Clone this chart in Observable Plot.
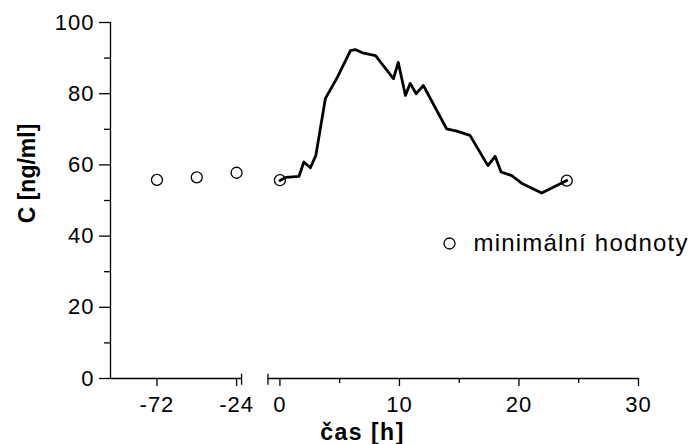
<!DOCTYPE html>
<html><head><meta charset="utf-8">
<script src="https://cdn.jsdelivr.net/npm/d3@7"></script>
<script src="https://cdn.jsdelivr.net/npm/@observablehq/plot@0.6"></script>
<style>
body{margin:0;background:#fff}
g[aria-label="y-axis tick label"] text, g[aria-label="x-axis tick label"] text {letter-spacing: 1px}
</style>
</head><body><div id="chart"></div>
<script>
// minimum (trough) values
const minTime = [-72, -48, -24, 0, 24];
const minConc = [55.8, 56.5, 57.8, 55.7, 55.6];
// concentration profile over 24 h
const time = [0, 0.5, 1.6, 2.0, 2.55, 3.0, 3.8, 4.8, 5.9, 6.3, 6.9, 8.0, 9.5, 9.9, 10.5, 10.9, 11.4, 12.0, 13.95, 14.8, 15.9, 17.4, 18.0, 18.5, 19.4, 20.3, 21.9, 24];
const conc = [55.6, 56.5, 56.8, 60.8, 59.2, 62.6, 78.6, 84.6, 92.1, 92.4, 91.5, 90.7, 84.2, 88.8, 79.5, 82.9, 80.0, 82.3, 70.1, 69.5, 68.3, 59.8, 62.4, 58.0, 57.0, 54.7, 52.1, 55.6];
// axes
const xTicks = [-72, -24, 0, 10, 20, 30];
const xMinorTicks = [5, 15, 25];
const yTicks = [0, 20, 40, 60, 80, 100];
const yMinorTicks = [10, 30, 50, 70, 90];
const xSegStart = [-100, -1];
const xSegEnd = [-21, 30];
const xBreaks = [-21, -1];
const legendLabel = "minimální hodnoty";
const xLabel = "čas [h]";
const yLabel = "C [ng/ml]";

// broken time axis: the days before dosing are compressed into a short left segment
const leftFrom = -100, leftTo = -21, rightFrom = -1;
const leftScale = 0.1388;           // compression of the left (pre-dose) segment
const leftEnd = -3.21;              // where the left segment ends on the axis
const bx = t => t >= rightFrom ? t : leftEnd + (t - leftTo) * leftScale;
const tickLabel = new Map(xTicks.map(t => [bx(t), String(t)]));

const mins = minTime.map((t, i) => ({t, c: minConc[i]}));
const profile = time.map((t, i) => ({t, c: conc[i]}));
const segs = xSegStart.map((a, i) => ({a, b: xSegEnd[i]}));

const chart = Plot.plot({
  width: 691,
  height: 444,
  marginTop: 22,
  marginBottom: 66,
  marginLeft: 110,
  marginRight: 53,
  style: {fontFamily: "'Liberation Sans', Arial, sans-serif", fontSize: "22px", color: "black", background: "white", overflow: "visible"},
  x: {domain: [bx(leftFrom), 30]},
  y: {domain: [0, 100]},
  marks: [
    // axis lines
    Plot.ruleX([leftFrom], {x: bx, y1: 0, y2: 100, stroke: "black", strokeWidth: 1.3}),
    Plot.ruleY(segs, {x1: d => bx(d.a), x2: d => bx(d.b), y: () => 0, stroke: "black", strokeWidth: 1.3}),
    Plot.ruleX(xBreaks, {x: bx, y1: -1.9, y2: 1.2, stroke: "black", strokeWidth: 1.3}),
    Plot.axisY({ticks: yTicks, tickSize: 11, tickPadding: 5, label: null, fontSize: 22, stroke: "black", strokeWidth: 1.3}),
    Plot.axisY({ticks: yMinorTicks, tickSize: 6, tickFormat: () => "", label: null, stroke: "black", strokeWidth: 1.3}),
    Plot.axisX({ticks: xTicks.map(bx), tickFormat: d => tickLabel.get(d), tickSize: 8, tickPadding: 10, label: null, fontSize: 22, stroke: "black", strokeWidth: 1.3}),
    Plot.axisX({ticks: xMinorTicks.map(bx), tickSize: 5, tickFormat: () => "", label: null, stroke: "black", strokeWidth: 1.3}),
    // data
    Plot.dot(mins, {x: d => bx(d.t), y: "c", r: 5.5, stroke: "black", strokeWidth: 1.3, fill: "none"}),
    Plot.line(profile, {x: d => bx(d.t), y: "c", stroke: "black", strokeWidth: 2.8}),
    // titles
    Plot.text([xLabel], {text: d => d, frameAnchor: "bottom", textAnchor: "middle", lineAnchor: "bottom", dx: -12, dy: 61, fontSize: 23, fontWeight: "bold", fill: "black"}),
    Plot.text([yLabel], {text: d => d, frameAnchor: "left", textAnchor: "middle", lineAnchor: "middle", rotate: -90, dx: -83, dy: -27, fontSize: 23, fontWeight: "bold", fill: "black"}),
    // legend
    Plot.dot([legendLabel], {frameAnchor: "top-left", dx: 339, dy: 221, r: 5.5, stroke: "black", strokeWidth: 1.3, fill: "none"}),
    Plot.text([legendLabel], {text: d => d, frameAnchor: "top-left", textAnchor: "start", lineAnchor: "middle", dx: 363, dy: 221, fontSize: 24, fill: "black"})
  ]
});
// spacing of the legend and x title text, as in the reference rendering
d3.select(chart).selectAll("text").each(function() {
  const s = this.textContent;
  if (s === legendLabel) this.style.letterSpacing = "1.2px";
  if (s === xLabel) this.style.letterSpacing = "1.5px";
});
document.getElementById("chart").appendChild(chart);
</script>
</body></html>
